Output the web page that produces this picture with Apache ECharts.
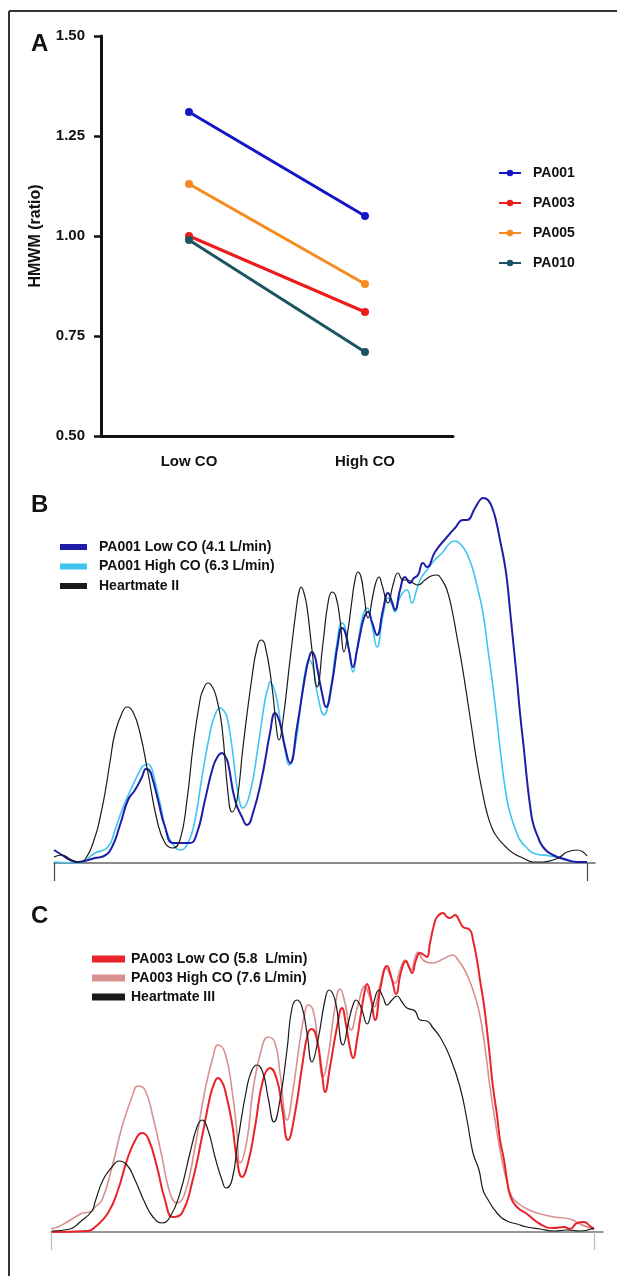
<!DOCTYPE html>
<html><head><meta charset="utf-8">
<script src="https://cdn.jsdelivr.net/npm/echarts@6/dist/echarts.min.js"></script>
<style>html,body{margin:0;padding:0;background:#fff}#c{width:617px;height:1276px}</style>
</head><body><div id="c"></div>
<script>
// Panel A
const categories = ['Low CO', 'High CO'];
const yTicksA = [0.50, 0.75, 1.00, 1.25, 1.50];
const pa001 = [1.31, 1.05];
const pa003 = [1.00, 0.81];
const pa005 = [1.13, 0.88];
const pa010 = [0.99, 0.71];

// Panel B (densitometry: migration distance, intensity; arbitrary units)
const bLowCO = [[0,13],[8,8],[16,3],[24,1],[41,5],[50,7],[58,16],[66,38],[74,63],[81,73],[88,86],[92,94],[95,93],[98,86],[104,63],[111,36],[119,20],[128,20],[136,20],[143,30],[151,63],[159,96],[164,107],[168,110],[171,107],[174,100],[181,63],[188,46],[193,38],[199,50],[208,86],[216,130],[221,150],[223,148],[226,140],[231,116],[236,100],[243,136],[251,186],[255,205],[258,211],[261,206],[263,196],[268,170],[272,156],[278,180],[284,220],[288,235],[291,231],[295,213],[299,196],[303,213],[306,228],[310,245],[314,251],[318,241],[323,228],[329,253],[334,270],[338,261],[341,253],[346,273],[351,286],[356,280],[360,285],[364,288],[369,300],[373,296],[381,311],[393,326],[401,335],[409,343],[413,343],[421,355],[426,363],[429,365],[434,363],[439,353],[443,338],[446,323],[450,303],[453,283],[456,253],[459,223],[463,183],[466,150],[470,113],[473,83],[476,58],[479,40],[484,26],[489,16],[499,8],[513,3],[523,1],[533,1]];
const bHighCO = [[0,1],[24,0],[41,10],[54,16],[61,33],[68,53],[78,76],[88,96],[91,98],[94,99],[97,96],[99,90],[106,60],[113,30],[121,16],[126,13],[134,20],[141,43],[148,86],[156,130],[161,148],[166,155],[170,152],[173,146],[178,116],[184,70],[189,55],[196,70],[204,116],[211,163],[214,175],[216,181],[219,177],[223,163],[228,130],[233,103],[235,98],[241,116],[248,170],[252,195],[255,203],[259,196],[264,166],[270,148],[276,170],[283,220],[288,240],[291,236],[295,213],[299,191],[303,213],[306,233],[310,251],[313,255],[318,238],[323,216],[329,248],[334,265],[338,258],[341,251],[346,266],[353,273],[358,260],[362,271],[366,283],[373,293],[379,301],[389,311],[396,320],[401,322],[404,321],[409,316],[414,307],[419,293],[424,273],[429,250],[434,213],[439,176],[444,133],[449,90],[453,63],[456,50],[461,35],[466,23],[473,15],[479,10],[496,7],[509,5],[523,1],[533,1]];
const bHM2 = [[0,6],[8,8],[16,4],[24,1],[32,5],[41,26],[46,45],[51,70],[56,101],[61,130],[68,150],[73,156],[79,151],[86,130],[94,90],[103,43],[111,20],[119,15],[126,23],[133,63],[139,116],[146,163],[149,173],[154,180],[159,175],[163,163],[168,136],[174,70],[178,51],[183,63],[189,116],[198,186],[203,215],[207,223],[211,218],[218,176],[223,130],[225,123],[229,143],[236,203],[243,260],[245,271],[247,276],[250,270],[253,256],[258,213],[263,176],[269,220],[274,260],[278,271],[282,266],[286,243],[290,211],[294,233],[298,263],[301,283],[304,291],[307,286],[310,268],[314,245],[319,268],[322,281],[325,286],[328,278],[334,260],[339,278],[344,290],[349,283],[354,283],[359,280],[364,278],[371,283],[377,287],[383,288],[388,283],[393,273],[398,253],[403,226],[408,198],[413,166],[418,133],[423,100],[428,73],[433,50],[438,35],[443,26],[451,17],[459,10],[469,5],[479,1],[489,1],[499,3],[506,6],[513,11],[523,13],[529,11],[533,7]];

// Panel C
const cLowCO = [[1,0],[37,1],[44,5],[57,19],[67,42],[77,75],[86,95],[91,99],[97,94],[106,65],[114,32],[122,15],[131,19],[141,49],[151,95],[159,135],[163,148],[167,154],[171,150],[174,142],[181,109],[186,72],[191,55],[197,69],[204,105],[212,152],[219,164],[226,152],[231,125],[237,92],[244,119],[251,165],[257,199],[261,203],[266,192],[271,159],[274,140],[279,165],[286,205],[291,224],[295,207],[299,184],[302,174],[306,192],[309,212],[313,237],[316,248],[320,234],[324,212],[330,247],[336,266],[341,252],[345,238],[350,260],[355,271],[358,265],[361,259],[365,272],[369,279],[373,277],[376,275],[379,289],[383,307],[386,315],[392,319],[396,315],[399,314],[404,317],[409,310],[412,305],[419,302],[422,292],[426,272],[429,252],[433,227],[436,202],[439,174],[442,145],[446,117],[449,92],[453,72],[456,52],[459,37],[466,25],[476,18],[489,8],[502,4],[513,5],[519,3],[526,9],[533,10],[539,6],[543,3]];
const cHighCO = [[0,3],[9,6],[16,10],[26,16],[32,19],[39,20],[44,25],[51,32],[61,65],[71,105],[81,135],[87,146],[94,142],[102,115],[111,75],[119,39],[126,29],[134,39],[144,85],[154,142],[162,175],[167,187],[174,179],[181,142],[186,99],[189,69],[196,92],[202,142],[211,185],[217,195],[224,189],[229,159],[236,112],[242,142],[249,192],[254,220],[257,227],[262,222],[267,189],[272,155],[277,175],[284,225],[289,243],[294,229],[300,202],[307,227],[314,246],[318,237],[323,225],[329,247],[335,264],[339,257],[344,249],[349,262],[354,272],[357,267],[360,262],[364,274],[367,280],[372,272],[382,269],[392,273],[402,277],[407,272],[412,265],[417,255],[422,242],[427,225],[431,205],[435,177],[439,145],[444,112],[449,82],[453,62],[456,50],[461,35],[468,28],[476,23],[486,19],[503,15],[519,13],[529,8],[539,4],[543,2]];
const cHM3 = [[1,1],[19,3],[29,10],[41,21],[44,30],[52,52],[61,65],[68,71],[76,67],[84,52],[94,29],[102,15],[111,9],[119,15],[129,39],[139,79],[146,105],[151,112],[157,102],[164,75],[171,52],[175,44],[181,52],[187,92],[196,145],[201,162],[206,167],[212,159],[217,135],[223,110],[229,132],[236,182],[241,224],[246,232],[251,225],[256,199],[261,170],[267,192],[274,232],[278,242],[284,232],[292,187],[298,212],[302,227],[305,232],[308,229],[311,222],[316,208],[322,227],[328,242],[332,235],[336,227],[341,232],[346,236],[351,230],[356,224],[364,221],[369,212],[376,211],[382,204],[389,195],[399,175],[409,145],[416,112],[422,79],[428,62],[432,42],[436,34],[446,19],[456,11],[466,8],[476,5],[489,3],[504,1],[516,2],[529,1],[543,4]];

const namesB = ['PA001 Low CO (4.1 L/min)', 'PA001 High CO (6.3 L/min)', 'Heartmate II'];
const namesC = ['PA003 Low CO (5.8  L/min)', 'PA003 High CO (7.6 L/min)', 'Heartmate III'];

const FONT = '"Liberation Sans", Arial, sans-serif';
const chart = echarts.init(document.getElementById('c'), null, {renderer: 'canvas'});

function lineA(name, data, color) {
  return {name, type: 'line', xAxisIndex: 0, yAxisIndex: 0, data,
    symbol: 'circle', symbolSize: 8, color,
    lineStyle: {width: 3, color}, itemStyle: {color}};
}
function trace(name, data, color, width, xi) {
  return {name, type: 'line', xAxisIndex: xi, yAxisIndex: xi, data,
    showSymbol: false, smooth: 0.5, color,
    lineStyle: {width, color}, itemStyle: {color}};
}
const legendText = {fontFamily: FONT, fontWeight: 'bold', fontSize: 14, color: '#111', lineHeight: 16};

chart.setOption({
  animation: false,
  backgroundColor: '#fff',
  title: [
    {text: 'A', left: 26, top: 27, textStyle: {fontFamily: FONT, fontWeight: 'bold', fontSize: 24, color: '#111'}},
    {text: 'B', left: 26, top: 488, textStyle: {fontFamily: FONT, fontWeight: 'bold', fontSize: 24, color: '#111'}},
    {text: 'C', left: 26, top: 899, textStyle: {fontFamily: FONT, fontWeight: 'bold', fontSize: 24, color: '#111'}}
  ],
  graphic: [
    {type: 'line', shape: {x1: 9, y1: 11, x2: 9, y2: 1276}, style: {stroke: '#333', lineWidth: 2}},
    {type: 'line', shape: {x1: 9, y1: 11, x2: 617, y2: 11}, style: {stroke: '#333', lineWidth: 2}}
  ],
  legend: [
    {data: ['PA001', 'PA003', 'PA005', 'PA010'], orient: 'vertical', left: 493, top: 160,
     itemWidth: 22, itemHeight: 8, itemGap: 14, textStyle: Object.assign({padding: [0,0,0,7]}, legendText)},
    {data: namesB, orient: 'vertical', left: 55, top: 534, icon: 'rect',
     itemWidth: 27, itemHeight: 6, itemGap: 3.5, textStyle: Object.assign({padding: [0,0,0,7]}, legendText)},
    {data: namesC, orient: 'vertical', left: 87, top: 946, icon: 'rect',
     itemWidth: 33, itemHeight: 7, itemGap: 3, textStyle: Object.assign({padding: [0,0,0,1]}, legendText)}
  ],
  grid: [
    {left: 101, top: 36, width: 352, height: 400},
    {left: 54, top: 483, width: 541, height: 380},
    {left: 51, top: 852, width: 552, height: 380}
  ],
  xAxis: [
    {gridIndex: 0, type: 'category', data: categories, boundaryGap: true,
     axisLine: {lineStyle: {color: '#111', width: 3}},
     axisTick: {alignWithLabel: true, length: 7, lineStyle: {color: '#111', width: 2.5}},
     axisLabel: {margin: 18, fontFamily: FONT, fontWeight: 'bold', fontSize: 15, color: '#111'}},
    {gridIndex: 1, type: 'value', min: 0, max: 541,
     axisLine: {lineStyle: {color: '#666', width: 1.5}},
     axisTick: {show: true, customValues: [0, 533], length: 18, lineStyle: {color: '#444', width: 1.2}},
     axisLabel: {show: false}, splitLine: {show: false}},
    {gridIndex: 2, type: 'value', min: 0, max: 552,
     axisLine: {lineStyle: {color: '#777', width: 1.5}},
     axisTick: {show: true, customValues: [0, 543], length: 18, lineStyle: {color: '#bbb', width: 1.2}},
     axisLabel: {show: false}, splitLine: {show: false}}
  ],
  yAxis: [
    {gridIndex: 0, type: 'value', min: 0.5, max: 1.5, interval: 0.25,
     name: 'HMWM (ratio)', nameLocation: 'middle', nameGap: 57,
     nameTextStyle: {fontFamily: FONT, fontWeight: 'bold', fontSize: 16, color: '#111'},
     axisLine: {show: true, lineStyle: {color: '#111', width: 3}},
     axisTick: {show: true, length: 7, lineStyle: {color: '#111', width: 2.5}},
     axisLabel: {margin: 16, fontFamily: FONT, fontWeight: 'bold', fontSize: 15, color: '#111',
       formatter: v => { const t = yTicksA.find(x => Math.abs(x - v) < 1e-9); return (t !== undefined ? t : v).toFixed(2); }},
     splitLine: {show: false}},
    {gridIndex: 1, type: 'value', min: 0, max: 380, show: false},
    {gridIndex: 2, type: 'value', min: 0, max: 380, show: false}
  ],
  series: [
    lineA('PA001', pa001, '#1414c8'),
    lineA('PA003', pa003, '#ec1c1c'),
    lineA('PA005', pa005, '#f68a1f'),
    lineA('PA010', pa010, '#1b5561'),
    trace(namesB[1], bHighCO, '#3fc5ef', 1.6, 1),
    trace(namesB[0], bLowCO, '#1d1da8', 2, 1),
    trace(namesB[2], bHM2, '#1a1a1a', 1.2, 1),
    trace(namesC[1], cHighCO, '#d99090', 1.6, 2),
    trace(namesC[0], cLowCO, '#e8232a', 2, 2),
    trace(namesC[2], cHM3, '#1a1a1a', 1.2, 2)
  ]
});
</script></body></html>
